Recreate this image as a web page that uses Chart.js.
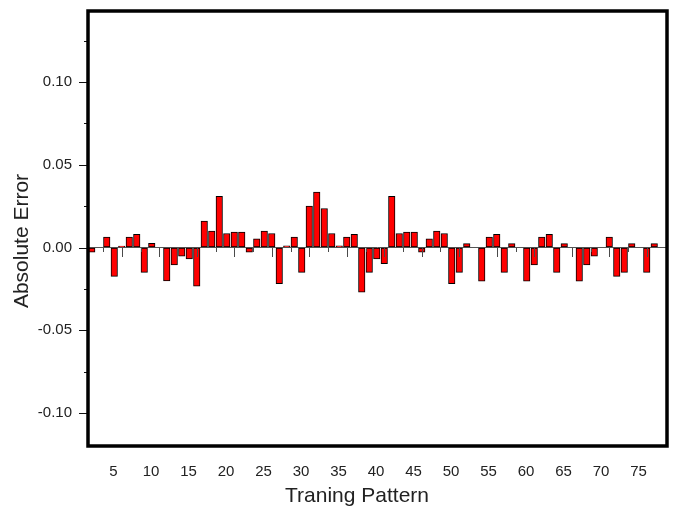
<!DOCTYPE html>
<html lang="en">
<head>
    <meta charset="UTF-8">
    <title>Absolute Error per Training Pattern</title>
    <script src="https://cdn.jsdelivr.net/npm/chart.js"></script>
    <style>
        body {
            margin: 0;
            background: #fff;
        }
        canvas {
            display: block;
        }
    </style>
</head>
<body>
    <canvas id="errorChart" width="676" height="508"></canvas>

    <script>
        // training pattern index 1..77
        const patterns = Array.from({ length: 77 }, (_, i) => i + 1);

        // absolute error, one value per pattern
        const absoluteError = [
            -0.0028, 0, 0.0063, -0.0174, 0.0008, 0.0063, 0.0079, -0.0150, 0.0026, 0,
            -0.0202, -0.0105, -0.0053, -0.0069, -0.0234, 0.0160, 0.0099, 0.0310, 0.0085, 0.0093,
            0.0093, -0.0028, 0.0053, 0.0099, 0.0085, -0.0218, 0.0010, 0.0063, -0.0150, 0.0250,
            0.0335, 0.0236, 0.0085, 0.0010, 0.0063, 0.0079, -0.0270, -0.0150, -0.0069, -0.0097,
            0.0310, 0.0085, 0.0093, 0.0093, -0.0028, 0.0053, 0.0099, 0.0085, -0.0218, -0.0150,
            0.0024, 0, -0.0204, 0.0063, 0.0079, -0.0150, 0.0024, 0, -0.0204, -0.0105,
            0.0063, 0.0079, -0.0150, 0.0024, 0, -0.0204, -0.0105, -0.0053, 0, 0.0063,
            -0.0174, -0.0150, 0.0024, 0, -0.0150, 0.0024, 0
        ];

        const xMajorTicks = [5, 10, 15, 20, 25, 30, 35, 40, 45, 50, 55, 60, 65, 70, 75];
        const xMinorTicks = [2.5, 7.5, 12.5, 17.5, 22.5, 27.5, 32.5, 37.5, 42.5, 47.5, 52.5, 57.5, 62.5, 67.5, 72.5];
        const yMajorTicks = [-0.10, -0.05, 0, 0.05, 0.10];
        const yMinorTicks = [-0.075, -0.025, 0.025, 0.075, 0.125];

        const FONT = '"Liberation Sans", Arial, sans-serif';
        const TEXT_COLOR = '#222';

        // frame, zero-line ticks, y ticks and axis titles in the Origin look
        const originFrame = {
            id: 'originFrame',
            afterDatasetsDraw(chart) {
                const { ctx, scales: { x, y } } = chart;
                const y0 = Math.round(y.getPixelForValue(0));
                ctx.save();
                ctx.strokeStyle = '#4a4a4a';
                ctx.lineWidth = 1;
                ctx.beginPath();
                xMajorTicks.forEach(v => {
                    const px = Math.round(x.getPixelForValue(v)) + 0.5;
                    ctx.moveTo(px, y0);
                    ctx.lineTo(px, y0 + 9);
                });
                xMinorTicks.forEach(v => {
                    const px = Math.round(x.getPixelForValue(v)) + 0.5;
                    ctx.moveTo(px, y0);
                    ctx.lineTo(px, y0 + 4);
                });
                ctx.stroke();
                ctx.restore();
            },
            afterDraw(chart) {
                const { ctx, chartArea: a, scales: { y } } = chart;
                ctx.save();

                // y tick marks outside the frame
                ctx.strokeStyle = '#111';
                ctx.lineWidth = 1;
                ctx.beginPath();
                yMajorTicks.forEach(v => {
                    const py = Math.round(y.getPixelForValue(v)) + 0.5;
                    ctx.moveTo(a.left - 9, py);
                    ctx.lineTo(a.left, py);
                });
                yMinorTicks.forEach(v => {
                    const py = Math.round(y.getPixelForValue(v)) + 0.5;
                    ctx.moveTo(a.left - 4, py);
                    ctx.lineTo(a.left, py);
                });
                ctx.stroke();

                // thick black box
                ctx.strokeStyle = '#000';
                ctx.lineWidth = 3.5;
                ctx.strokeRect(a.left, a.top, a.right - a.left, a.bottom - a.top);

                // axis titles
                ctx.fillStyle = TEXT_COLOR;
                ctx.font = '21px ' + FONT;
                ctx.textAlign = 'center';
                ctx.textBaseline = 'middle';
                ctx.fillText('Traning Pattern', 357, 496);
                ctx.translate(22, 241);
                ctx.rotate(-Math.PI / 2);
                ctx.fillText('Absolute Error', 0, 0);
                ctx.restore();
            }
        };

        const ctx = document.getElementById('errorChart').getContext('2d');
        new Chart(ctx, {
            type: 'bar',
            data: {
                datasets: [{
                    label: 'Absolute Error',
                    data: patterns.map((p, i) => ({ x: p, y: absoluteError[i] })),
                    backgroundColor: '#ff0000',
                    borderColor: '#000',
                    borderWidth: 1,
                    borderSkipped: false,
                    barThickness: 6.5
                }]
            },
            options: {
                responsive: false,
                animation: false,
                devicePixelRatio: 1,
                layout: { padding: { top: 11, right: 9, bottom: 0, left: 0 } },
                plugins: {
                    legend: { display: false },
                    tooltip: { enabled: false }
                },
                scales: {
                    x: {
                        type: 'linear',
                        display: false,
                        offset: false,
                        min: 0.5,
                        max: 77.7
                    },
                    xLabels: {
                        type: 'linear',
                        position: 'bottom',
                        offset: false,
                        min: 1.6,
                        max: 78.8,
                        grid: { display: false },
                        border: { display: false },
                        afterBuildTicks: s => { s.ticks = xMajorTicks.map(v => ({ value: v })); },
                        afterFit: s => {
                            s.height = 62;
                            s.paddingLeft = 0;
                            s.paddingRight = 0;
                        },
                        ticks: {
                            padding: 9,
                            maxRotation: 0,
                            autoSkip: false,
                            color: TEXT_COLOR,
                            font: { family: FONT, size: 15 },
                            callback: v => String(v)
                        }
                    },
                    y: {
                        min: -0.12,
                        max: 0.143,
                        border: { display: false },
                        grid: {
                            drawTicks: false,
                            color: c => (c.tick && c.tick.value === 0) ? '#555' : 'rgba(0,0,0,0)'
                        },
                        afterBuildTicks: s => { s.ticks = yMajorTicks.map(v => ({ value: v })); },
                        afterFit: s => {
                            s.width = 88;
                            s.paddingTop = 0;
                            s.paddingBottom = 0;
                        },
                        ticks: {
                            padding: 16,
                            color: TEXT_COLOR,
                            font: { family: FONT, size: 15 },
                            callback: v => v.toFixed(2)
                        }
                    }
                }
            },
            plugins: [originFrame]
        });
    </script>
</body>
</html>
